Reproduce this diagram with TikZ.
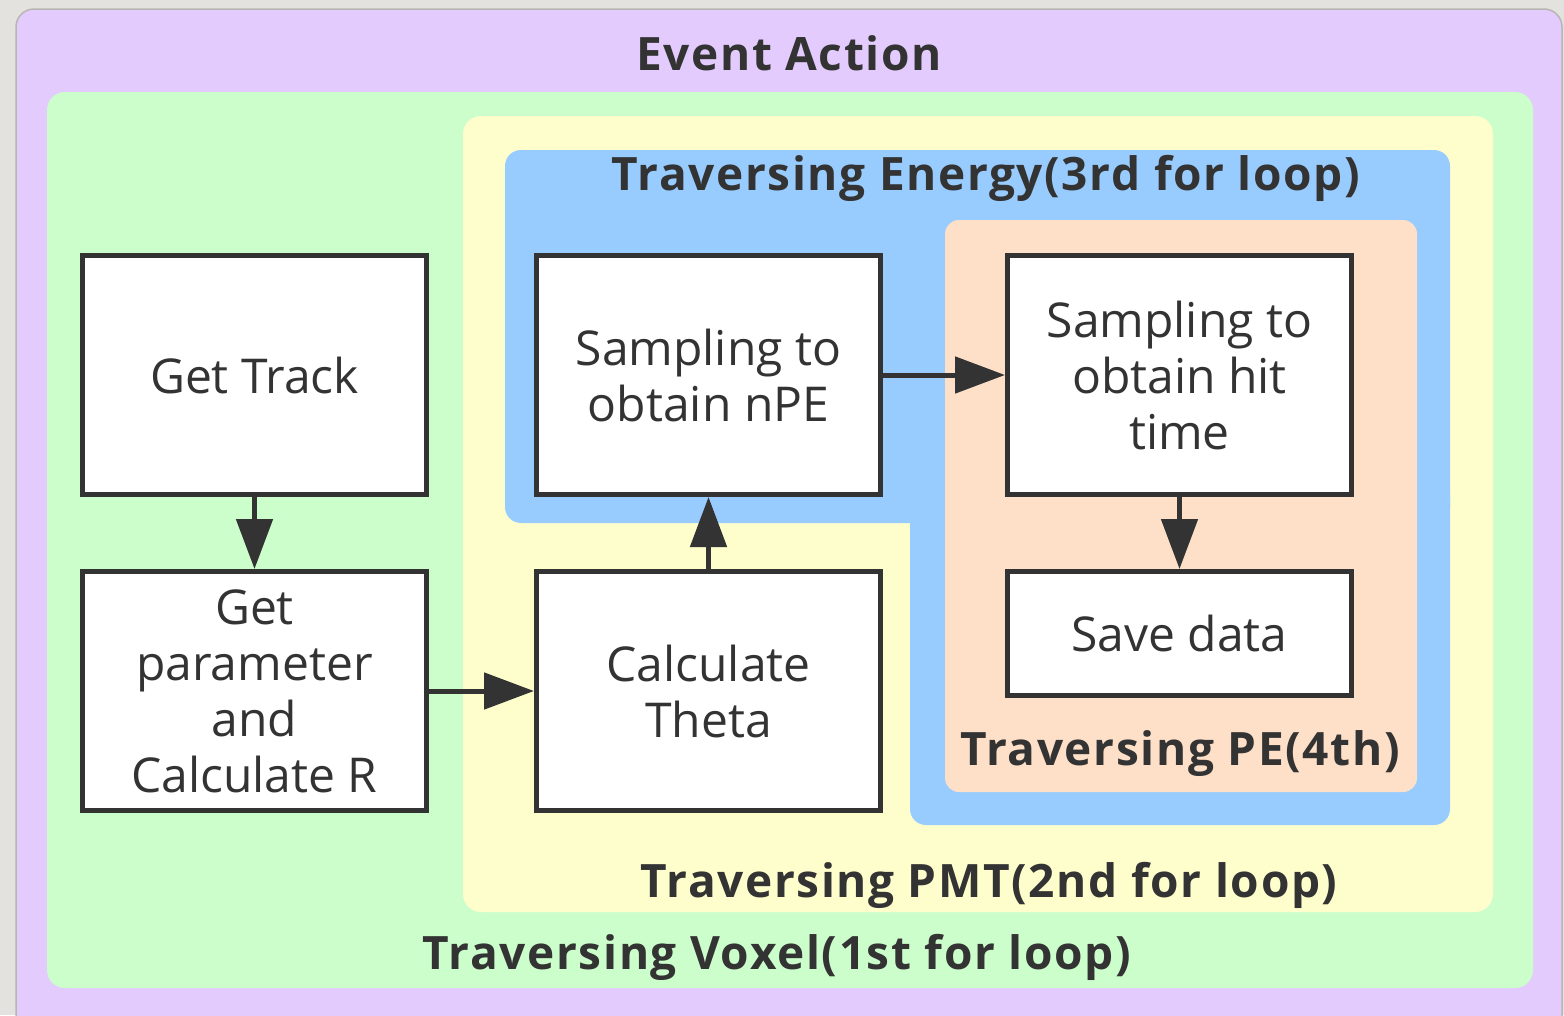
\documentclass[tikz,border=0pt]{standalone}
\usepackage{fontspec}
\setmainfont{Open Sans}
\newfontfamily\loopfont[LetterSpace=3.5]{Open Sans}
\usetikzlibrary{arrows.meta}
\usetikzlibrary{positioning}

\definecolor{ink}{HTML}{333333}
\definecolor{colFrame}{HTML}{E4E2DE}
\definecolor{colEdge}{HTML}{B8B6B2}
\definecolor{colEvt}{HTML}{E3CBFD}
\definecolor{colVox}{HTML}{CCFECC}
\definecolor{colPmt}{HTML}{FEFECC}
\definecolor{colEne}{HTML}{99CCFE}
\definecolor{colPe}{HTML}{FEE0C8}

\begin{document}
\begin{tikzpicture}[x=1pt,y=-1pt,
    box/.style={draw=ink, line width=5pt, fill=white, align=center, text=ink,
      minimum width=344pt, minimum height=239pt, font=\fontsize{48}{56}\selectfont},
    loop/.style={anchor=base, text=ink, font=\loopfont\bfseries\fontsize{46}{54}\selectfont},
    >={Triangle[length=50pt,width=36pt]}]
    \useasboundingbox (0,0) rectangle (1564,1015);

    % nested loop regions
    \fill[colFrame] (0,0) rectangle (1564,1015);
    \filldraw[fill=colEvt, draw=colEdge, line width=1.5pt, rounded corners=18pt] (16,9) rectangle (1562,1050);
    \fill[colVox, rounded corners=18pt] (47,92) rectangle (1533,988);
    \fill[colPmt, rounded corners=18pt] (463,116) rectangle (1493,912);
    \fill[colEne, rounded corners=16pt] (505,150) rectangle (1450,523);
    \fill[colEne, rounded corners=16pt] (910,480) rectangle (1450,825);
    \fill[colPe, rounded corners=14pt] (945,220) rectangle (1417,792);

    \node[loop] (evt) at (789,70) {Event Action};
    \node[loop] (ene) at (986,190) {Traversing Energy(3rd for loop)};
    \node[loop] (pe) at (1180,765) {Traversing PE(4th)};
    \node[loop] (pmt) at (989,897) {Traversing PMT(2nd for loop)};
    \node[loop] (vox) at (777,969) {Traversing Voxel(1st for loop)};

    % steps
    \node[box] (gt) at (254.5,375) {Get Track};
    \node[box] (gp) [below = 72pt of gt] {Get\\parameter\\and\\Calculate R};
    \node[box] (ct) [right = 105pt of gp] {Calculate\\Theta};
    \node[box] (sn) [above = 72pt of ct] {Sampling to\\obtain nPE};
    \node[box] (sh) [right = 122pt of sn] {Sampling to\\obtain hit\\time};
    \node[box, minimum height=124pt] (sd) [below = 72pt of sh] {Save data};

    \draw [->, ink, line width=5pt] (gt) -- (gp);
    \draw [->, ink, line width=5pt] (gp) -- (ct);
    \draw [->, ink, line width=5pt] (ct) -- (sn);
    \draw [->, ink, line width=5pt] (sn) -- (sh);
    \draw [->, ink, line width=5pt] (sh) -- (sd);
\end{tikzpicture}
\end{document}
